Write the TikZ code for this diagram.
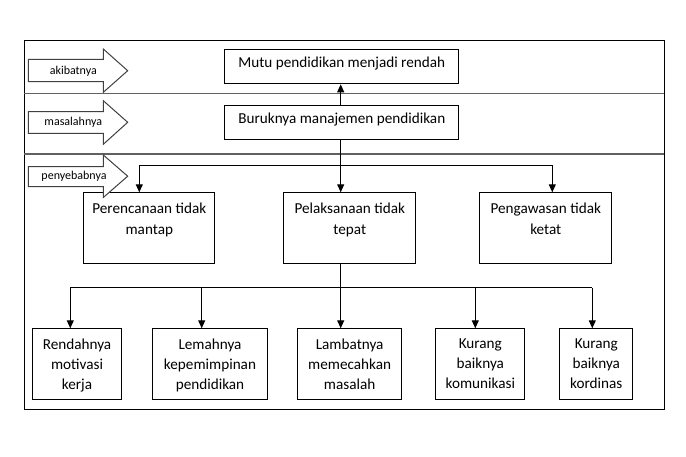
\documentclass[tikz,border=0pt]{standalone}
\usepackage{fontspec}
\setmainfont{Carlito}
\usetikzlibrary{arrows.meta}
\begin{document}
\begin{tikzpicture}[x=1pt,y=-1pt,line width=1pt,
  box/.style={draw=black,line width=1pt,anchor=north west,inner sep=0pt},
  txt/.style={anchor=north,align=center,inner sep=0pt,font=\fontsize{15.2}{21}\selectfont},
  btxt/.style={anchor=north,align=center,inner sep=0pt,font=\fontsize{15.2}{20}\selectfont},
  lbl/.style={inner sep=0pt,font=\fontsize{12}{14}\selectfont},
  blockarrow/.style={draw=black!75,line width=1pt,fill=white},
  sep/.style={draw=black!62,line width=1.3pt},
  arr/.style={-{Triangle[length=8pt,width=7pt]},line width=1pt}]
\useasboundingbox (0,0) rectangle (686,457);
% frame and separators
\draw[black,line width=1pt] (24,41) rectangle (664.3,409.3);
\draw[sep] (24,93.3) -- (664.3,93.3);
\draw[sep] (24,154) -- (664.3,154);
% boxes
\node[box,minimum width=234pt,minimum height=34pt] (b1) at (224.3,49.3) {};
\node[box,minimum width=234pt,minimum height=34pt] (b2) at (224.3,105.3) {};
\node[box,minimum width=131pt,minimum height=70.7pt] (per) at (83.3,192.3) {};
\node[box,minimum width=132pt,minimum height=70.7pt] (pel) at (283.3,192.3) {};
\node[box,minimum width=132pt,minimum height=70.7pt] (pen) at (479.3,192.3) {};
\node[box,minimum width=88.4pt,minimum height=70.7pt] (r1) at (32.3,328.3) {};
\node[box,minimum width=114.4pt,minimum height=70.7pt] (r2) at (152.3,328.3) {};
\node[box,minimum width=103.7pt,minimum height=70.7pt] (r3) at (297.3,328.3) {};
\node[box,minimum width=89pt,minimum height=70.7pt] (r4) at (435.3,328.3) {};
\node[box,minimum width=73pt,minimum height=70.7pt] (r5) at (559.3,328.3) {};
% box texts
\node[txt] (t1) at ([yshift=-7.5pt]b1.north) {Mutu pendidikan menjadi rendah};
\node[txt] (t2) at ([yshift=-7.5pt]b2.north) {Buruknya manajemen pendidikan};
\node[txt] (tper) at ([yshift=-10pt]per.north) {Perencanaan tidak\\mantap};
\node[txt] (tpel) at ([yshift=-10pt]pel.north) {Pelaksanaan tidak\\tepat};
\node[txt] (tpen) at ([yshift=-10pt]pen.north) {Pengawasan tidak\\ketat};
\node[btxt] (tr1) at ([yshift=-10pt]r1.north) {Rendahnya\\motivasi\\kerja};
\node[btxt] (tr2) at ([yshift=-10pt]r2.north) {Lemahnya\\kepemimpinan\\pendidikan};
\node[btxt] (tr3) at ([yshift=-10pt]r3.north) {Lambatnya\\memecahkan\\masalah};
\node[btxt] (tr4) at ([yshift=-10pt]r4.north) {Kurang\\baiknya\\komunikasi};
\node[btxt] (tr5) at ([yshift=-10pt]r5.north) {Kurang\\baiknya\\kordinas};
% block arrows
\draw[blockarrow] (28.3,59.3) -- (103.3,59.3) -- (103.3,49) -- (127.7,70.7) -- (103.3,92.3) -- (103.3,81.7) -- (28.3,81.7) -- cycle;
\draw[blockarrow] (28.3,111.7) -- (103.3,111.7) -- (103.3,100.7) -- (127.7,122.3) -- (103.3,144.3) -- (103.3,133.3) -- (28.3,133.3) -- cycle;
\draw[blockarrow] (28.3,166.7) -- (103.3,166.7) -- (103.3,155) -- (127.7,176.2) -- (103.3,197.5) -- (103.3,186.7) -- (28.3,186.7) -- cycle;
\node[lbl] (l1) at (73.3,71.2) {akibatnya};
\node[lbl] (l2) at (73.3,122.3) {masalahnya};
\node[lbl] (l3) at (74,176.7) {penyebabnya};
% connectors
\coordinate (vx) at (340.7,0);
\draw[arr] (b2.north -| vx) -- (b1.south -| vx);
\draw[arr] (b2.south -| vx) -- (pel.north -| vx);
\coordinate (h1) at (139.3,165.3);
\coordinate (h2) at (552.3,165.3);
\draw (h1) -- (h2);
\draw[arr] (h1) -- (h1 |- per.north);
\draw[arr] (h2) -- (h2 |- pen.north);
\draw[arr] (pel.south -| vx) -- (r3.north -| vx);
\coordinate (g1) at (70.3,287.7);
\coordinate (g2) at (201.7,287.7);
\coordinate (g4) at (475.3,287.7);
\coordinate (g5) at (592.3,287.7);
\draw (g1) -- (g5);
\draw[arr] (g1) -- (g1 |- r1.north);
\draw[arr] (g2) -- (g2 |- r2.north);
\draw[arr] (g4) -- (g4 |- r4.north);
\draw[arr] (g5) -- (g5 |- r5.north);
\end{tikzpicture}
\end{document}
